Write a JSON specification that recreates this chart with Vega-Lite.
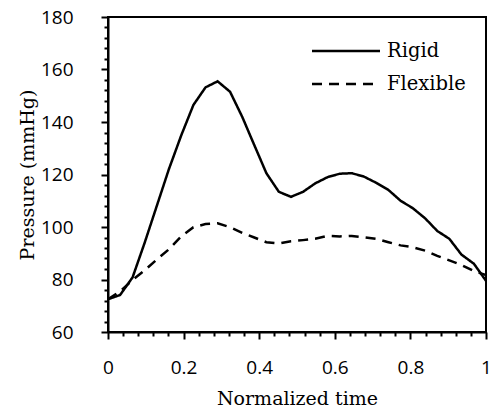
{
  "$schema": "https://vega.github.io/schema/vega-lite/v6.json",
  "width": 378,
  "height": 315,
  "autosize": {"type": "none"},
  "padding": {"left": 108, "top": 17, "right": 5, "bottom": 78},
  "background": "white",
  "config": {
    "view": {"stroke": "black", "strokeWidth": 2},
    "axis": {"grid": false}
  },
  "data": {
    "values": [
      {"t": 0, "series": "Rigid", "p": 72.5},
      {"t": 0.032, "series": "Rigid", "p": 74.1},
      {"t": 0.065, "series": "Rigid", "p": 80.8},
      {"t": 0.097, "series": "Rigid", "p": 94},
      {"t": 0.129, "series": "Rigid", "p": 108},
      {"t": 0.161, "series": "Rigid", "p": 122},
      {"t": 0.194, "series": "Rigid", "p": 135},
      {"t": 0.226, "series": "Rigid", "p": 146.5},
      {"t": 0.258, "series": "Rigid", "p": 153.2},
      {"t": 0.29, "series": "Rigid", "p": 155.5},
      {"t": 0.323, "series": "Rigid", "p": 151.5},
      {"t": 0.355, "series": "Rigid", "p": 142},
      {"t": 0.387, "series": "Rigid", "p": 131.2},
      {"t": 0.419, "series": "Rigid", "p": 120.5},
      {"t": 0.452, "series": "Rigid", "p": 113.4},
      {"t": 0.484, "series": "Rigid", "p": 111.5},
      {"t": 0.516, "series": "Rigid", "p": 113.4},
      {"t": 0.548, "series": "Rigid", "p": 116.6},
      {"t": 0.581, "series": "Rigid", "p": 119},
      {"t": 0.613, "series": "Rigid", "p": 120.3},
      {"t": 0.645, "series": "Rigid", "p": 120.5},
      {"t": 0.677, "series": "Rigid", "p": 119.2},
      {"t": 0.71, "series": "Rigid", "p": 116.8},
      {"t": 0.742, "series": "Rigid", "p": 114.1},
      {"t": 0.774, "series": "Rigid", "p": 110},
      {"t": 0.806, "series": "Rigid", "p": 107.2},
      {"t": 0.839, "series": "Rigid", "p": 103.3},
      {"t": 0.871, "series": "Rigid", "p": 98.5},
      {"t": 0.903, "series": "Rigid", "p": 95.5},
      {"t": 0.935, "series": "Rigid", "p": 89.5},
      {"t": 0.968, "series": "Rigid", "p": 86},
      {"t": 1, "series": "Rigid", "p": 79.5},
      {"t": 0, "series": "Flexible", "p": 72.5},
      {"t": 0.032, "series": "Flexible", "p": 75.5},
      {"t": 0.065, "series": "Flexible", "p": 79.8},
      {"t": 0.097, "series": "Flexible", "p": 83.5},
      {"t": 0.129, "series": "Flexible", "p": 87.6},
      {"t": 0.161, "series": "Flexible", "p": 91.5},
      {"t": 0.194, "series": "Flexible", "p": 96.5},
      {"t": 0.226, "series": "Flexible", "p": 99.9},
      {"t": 0.258, "series": "Flexible", "p": 101.1},
      {"t": 0.29, "series": "Flexible", "p": 101.4},
      {"t": 0.323, "series": "Flexible", "p": 99.9},
      {"t": 0.355, "series": "Flexible", "p": 97.8},
      {"t": 0.387, "series": "Flexible", "p": 96},
      {"t": 0.419, "series": "Flexible", "p": 94.2},
      {"t": 0.452, "series": "Flexible", "p": 93.7},
      {"t": 0.484, "series": "Flexible", "p": 94.6},
      {"t": 0.516, "series": "Flexible", "p": 95},
      {"t": 0.548, "series": "Flexible", "p": 95.5},
      {"t": 0.581, "series": "Flexible", "p": 96.6},
      {"t": 0.613, "series": "Flexible", "p": 96.4},
      {"t": 0.645, "series": "Flexible", "p": 96.6},
      {"t": 0.677, "series": "Flexible", "p": 96.1},
      {"t": 0.71, "series": "Flexible", "p": 95.5},
      {"t": 0.742, "series": "Flexible", "p": 94.2},
      {"t": 0.774, "series": "Flexible", "p": 93},
      {"t": 0.806, "series": "Flexible", "p": 92.3},
      {"t": 0.839, "series": "Flexible", "p": 91},
      {"t": 0.871, "series": "Flexible", "p": 89},
      {"t": 0.903, "series": "Flexible", "p": 87.3},
      {"t": 0.935, "series": "Flexible", "p": 85.5},
      {"t": 0.968, "series": "Flexible", "p": 83.2},
      {"t": 1, "series": "Flexible", "p": 81.7}
    ]
  },
  "mark": {"type": "line", "color": "black", "strokeWidth": 2.5, "clip": true},
  "encoding": {
    "x": {
      "field": "t",
      "type": "quantitative",
      "scale": {"domain": [0, 1], "nice": false, "zero": false},
      "axis": {
        "title": "Normalized time",
        "values": [0, 0.04, 0.08, 0.12, 0.16, 0.2, 0.24, 0.28, 0.32, 0.36, 0.4, 0.44, 0.48, 0.52, 0.56, 0.6, 0.64, 0.68, 0.72, 0.76, 0.8, 0.84, 0.88, 0.92, 0.96, 1],
        "labelExpr": "round(datum.value*100)%20==0 ? format(datum.value, '~g') : ''",
        "labelFont": "Open Sans",
        "labelFontSize": 19,
        "labelColor": "black",
        "labelPadding": 19,
        "labelFlush": false,
        "labelOverlap": false,
        "domainColor": "black",
        "domainWidth": 2,
        "tickColor": "black",
        "tickWidth": 2,
        "tickSize": {"condition": {"test": "round(datum.value*100)%20==0", "value": 7}, "value": 4},
        "titleFont": "DejaVu Serif",
        "titleFontSize": 19,
        "titleFontWeight": "normal",
        "titleColor": "black",
        "titleBaseline": "alphabetic",
        "titleY": 72
      }
    },
    "y": {
      "field": "p",
      "type": "quantitative",
      "scale": {"domain": [60, 180], "nice": false, "zero": false},
      "axis": {
        "title": "Pressure (mmHg)",
        "values": [60, 64, 68, 72, 76, 80, 84, 88, 92, 96, 100, 104, 108, 112, 116, 120, 124, 128, 132, 136, 140, 144, 148, 152, 156, 160, 164, 168, 172, 176, 180],
        "labelExpr": "datum.value%20==0 ? datum.value : ''",
        "labelFont": "Open Sans",
        "labelFontSize": 19,
        "labelColor": "black",
        "labelPadding": 28,
        "labelFlush": false,
        "labelOverlap": false,
        "domainColor": "black",
        "domainWidth": 2,
        "tickColor": "black",
        "tickWidth": 2,
        "tickSize": {"condition": {"test": "datum.value%20==0", "value": 7}, "value": 4},
        "titleFont": "DejaVu Serif",
        "titleFontSize": 19,
        "titleFontWeight": "normal",
        "titleColor": "black",
        "titleBaseline": "alphabetic",
        "titleX": -75
      }
    },
    "strokeDash": {
      "field": "series",
      "type": "nominal",
      "scale": {"domain": ["Rigid", "Flexible"], "range": [[1, 0], [10, 7]]},
      "legend": {
        "title": null,
        "orient": "none",
        "legendX": 228,
        "legendY": 24,
        "padding": 0,
        "symbolType": "M-4,0H4",
        "symbolSize": 289,
        "symbolStrokeWidth": 2.5,
        "symbolStrokeColor": "black",
        "labelFont": "DejaVu Serif",
        "labelFontSize": 19.5,
        "labelColor": "black",
        "labelOffset": 31,
        "rowPadding": 13
      }
    }
  }
}
